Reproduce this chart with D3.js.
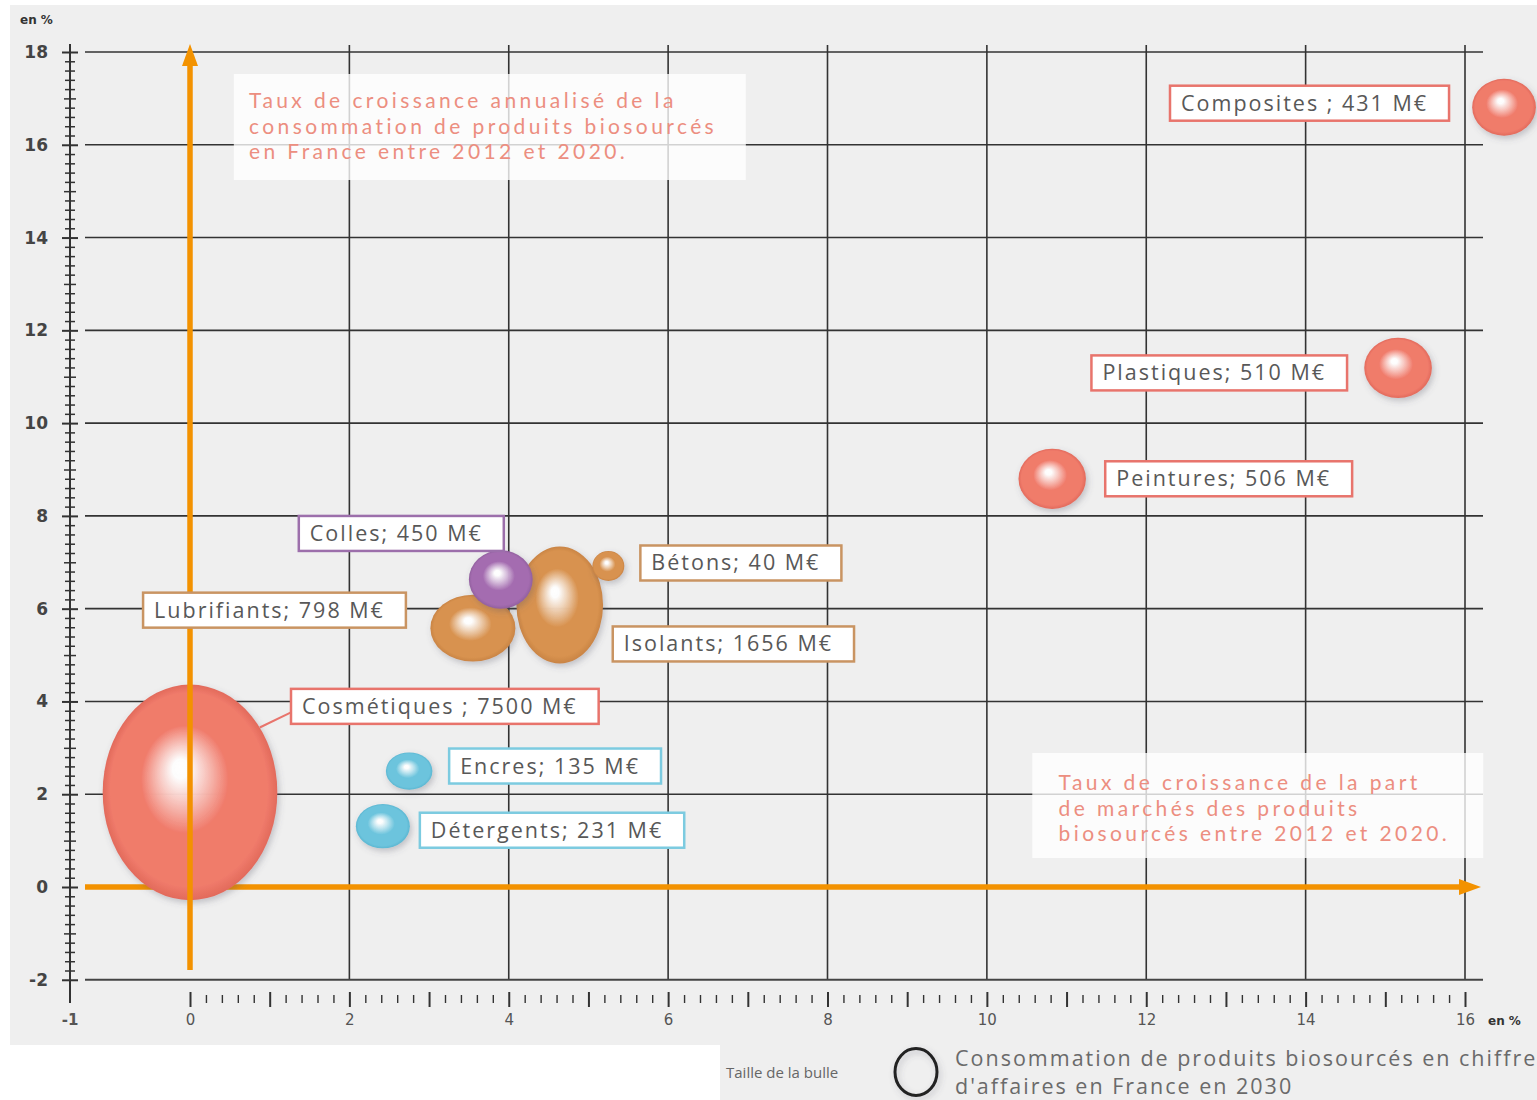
<!DOCTYPE html>
<html><head><meta charset="utf-8">
<script src="https://cdn.jsdelivr.net/npm/d3@7"></script>
<style>body{margin:0;background:#fff}svg{display:block}</style>
</head><body>
<svg id="chart" width="1537" height="1100"></svg>
<script>
// ---------- DATA ----------
const categories = ["Cosmétiques","Isolants","Lubrifiants","Colles","Bétons","Encres","Détergents","Peintures","Plastiques","Composites"];
const labelTexts = ["Cosmétiques ; 7500 M€","Isolants; 1656 M€","Lubrifiants; 798 M€","Colles; 450 M€","Bétons; 40 M€","Encres; 135 M€","Détergents; 231 M€","Peintures; 506 M€","Plastiques; 510 M€","Composites ; 431 M€"];
// x: taux de croissance de la part de marché (en %)
const marketShareGrowth = [0, 4.64, 3.55, 3.90, 5.25, 2.75, 2.42, 10.82, 15.16, 16.49];
// y: taux de croissance annualisé de la consommation (en %)
const consumptionGrowth = [2.04, 6.08, 5.58, 6.63, 6.92, 2.50, 1.31, 8.80, 11.19, 16.81];
// taille: chiffre d'affaires 2030 (M€)
const turnover2030 = [7500, 1656, 798, 450, 40, 135, 231, 506, 510, 431];
const sectorGroup = ["rouge","marron","marron","violet","marron","bleu","bleu","rouge","rouge","rouge"];
const yTickValues = [-2,0,2,4,6,8,10,12,14,16,18];
const xTickValues = [0,2,4,6,8,10,12,14,16];
const xOriginLabel = "-1";
const topNote = ["Taux de croissance annualisé de la","consommation de produits biosourcés","en France entre 2012 et 2020."];
const rightNote = ["Taux de croissance de la part","de marchés des produits","biosourcés entre 2012 et 2020."];
const legendTitle = "Taille de la bulle";
const legendText = ["Consommation de produits biosourcés en chiffre","d'affaires en France en 2030"];

// ---------- STYLE / LAYOUT ----------
const palette = {
  rouge:  {base:"#f07b6b", dark:"#e26a5b", border:"#e8746c"},
  marron: {base:"#d8924f", dark:"#c98444", border:"#c99462"},
  violet: {base:"#a46cb0", dark:"#92609f", border:"#9c6fab"},
  bleu:   {base:"#6cc4dd", dark:"#5cb7d2", border:"#7ccbe0"}
};
const aspect = {"Cosmétiques":0.81,"Isolants":0.74,"Lubrifiants":1.27,"Colles":1.09,"Bétons":1.07,"Encres":1.25,"Détergents":1.22,"Peintures":1.12,"Plastiques":1.12,"Composites":1.12};
// label placement relative to bubble centre (px): side, gap, vertical shift
const labelPlace = {
  "Cosmétiques":["right",101,-86], "Isolants":["right",53,39], "Lubrifiants":["left",67,-18],
  "Colles":["left",-3,-46], "Bétons":["right",32,-3], "Encres":["right",40,-5],
  "Détergents":["right",37,4], "Peintures":["right",53,0], "Plastiques":["left",51,5],
  "Composites":["left",55,-4]
};
const ORANGE = "#f39200";
const GRID = "#333";
const yAxisX = 70, gridLeft = 85, gridRight = 1483;

const data = categories.map((c,i)=>({name:c,label:labelTexts[i],x:marketShareGrowth[i],y:consumptionGrowth[i],v:turnover2030[i],g:sectorGroup[i]}));

const svg = d3.select("#chart");
const x = d3.scaleLinear().domain([0,16]).range([190,1465]);
const y = d3.scaleLinear().domain([0,18]).range([887,52]);
const r = d3.scaleSqrt().domain([0,7500]).range([9,97]);

// defs
const defs = svg.append("defs");
Object.entries(palette).forEach(([k,p])=>{
  const g = defs.append("radialGradient").attr("id","grad-"+k)
    .attr("cx","0.5").attr("cy","0.5").attr("r","0.5").attr("fx","0.44").attr("fy","0.38");
  g.append("stop").attr("offset","0").attr("stop-color","#ffffff");
  g.append("stop").attr("offset","0.09").attr("stop-color","#ffffff").attr("stop-opacity",0.95);
  g.append("stop").attr("offset","0.5").attr("stop-color",p.base);
  g.append("stop").attr("offset","0.9").attr("stop-color",p.base);
  g.append("stop").attr("offset","1").attr("stop-color",p.dark);
});
const f = defs.append("filter").attr("id","shadow").attr("x","-30%").attr("y","-30%").attr("width","170%").attr("height","170%");
f.append("feDropShadow").attr("dx",2).attr("dy",3).attr("stdDeviation",3).attr("flood-color","#556").attr("flood-opacity",0.3);

// background
svg.append("path").attr("fill","#efefef")
  .attr("d","M10,5H1537V1100H720V1045H10Z");

// "en %" top-left
svg.append("text").attr("x",20).attr("y",24).text("en %")
  .attr("font-family","DejaVu Sans").attr("font-weight","bold").attr("font-size",12).attr("fill","#333");

// gridlines
const gridG = svg.append("g");
gridG.selectAll(".vg").data(xTickValues.filter(v=>v>0)).join("line")
  .attr("x1",d=>x(d)).attr("x2",d=>x(d)).attr("y1",y(18)-7).attr("y2",y(-2))
  .attr("stroke",GRID).attr("stroke-width",1.6);
gridG.selectAll(".hg").data(yTickValues.filter(v=>v!==0)).join("line")
  .attr("x1",gridLeft).attr("x2",gridRight).attr("y1",d=>y(d)).attr("y2",d=>y(d))
  .attr("stroke",d=>d===-2?"#444":GRID).attr("stroke-width",d=>d===-2?2:1.6);

// y axis (crossing ticks)
const yAxisG = svg.append("g").attr("transform",`translate(${yAxisX},0)`);
yAxisG.append("line").attr("x1",0).attr("x2",0).attr("y1",y(18)-8).attr("y2",1003).attr("stroke","#333").attr("stroke-width",2);
const yMinor = d3.range(-2,18.001,0.2).map(v=>+v.toFixed(1));
const yMinorAxis = d3.axisLeft(y).tickValues(yMinor).tickFormat("").tickSize(0);
const ym = yAxisG.append("g").call(yMinorAxis);
ym.select(".domain").remove();
ym.selectAll(".tick line")
  .attr("x1",d=>Math.abs(d%2)<1e-6?-8:(Math.abs(d%1)<1e-6?-6:-5))
  .attr("x2",d=>Math.abs(d%2)<1e-6?8:(Math.abs(d%1)<1e-6?6:5))
  .attr("stroke","#333").attr("stroke-width",d=>Math.abs(d%2)<1e-6?2:1.5);
const yLabAxis = d3.axisLeft(y).tickValues(yTickValues).tickSize(0).tickPadding(22).tickFormat(d=>String(d));
const yl = yAxisG.append("g").call(yLabAxis);
yl.select(".domain").remove();
yl.selectAll("text").attr("font-family","DejaVu Sans").attr("font-weight","bold").attr("font-size",17).attr("fill","#444");

// x tick row
const xRow = svg.append("g").attr("transform","translate(0,990)");
const xMinor = d3.range(0,16.001,0.2).map(v=>+v.toFixed(1));
const xm = xRow.append("g").call(d3.axisBottom(x).tickValues(xMinor).tickFormat("").tickSize(0));
xm.select(".domain").remove();
xm.selectAll(".tick line")
  .attr("y1",d=>Math.abs(d%1)<1e-6?2:5).attr("y2",d=>Math.abs(d%1)<1e-6?17:13)
  .attr("stroke","#333").attr("stroke-width",d=>Math.abs(d%1)<1e-6?2:1.4);
const xl = xRow.append("g").call(d3.axisBottom(x).tickValues(xTickValues).tickSize(0).tickPadding(24).tickFormat(d=>String(d)));
xl.select(".domain").remove();
xl.selectAll("text").attr("font-family","DejaVu Sans").attr("font-size",15).attr("fill","#555");
svg.append("text").attr("x",yAxisX).attr("y",1025).attr("text-anchor","middle").text(xOriginLabel)
  .attr("font-family","DejaVu Sans").attr("font-weight","bold").attr("font-size",15).attr("fill","#555");
svg.append("text").attr("x",1488).attr("y",1025).text("en %")
  .attr("font-family","DejaVu Sans").attr("font-weight","bold").attr("font-size",12).attr("fill","#333");

// orange axes with arrow heads
function arrow(g, x1,y1,x2,y2){
  const ang = Math.atan2(y2-y1,x2-x1), L=22, W=8;
  const bx = x2 - L*Math.cos(ang), by = y2 - L*Math.sin(ang);
  g.append("line").attr("x1",x1).attr("y1",y1).attr("x2",bx).attr("y2",by).attr("stroke",ORANGE).attr("stroke-width",5.5);
  g.append("path").attr("fill",ORANGE).attr("d",
    `M${x2},${y2}L${bx - W*Math.sin(ang)},${by + W*Math.cos(ang)}L${bx + W*Math.sin(ang)},${by - W*Math.cos(ang)}Z`);
}
arrow(svg.append("g"), gridLeft, y(0), 1481, y(0));

// bubbles
const rx = d=>r(d.v)*Math.sqrt(aspect[d.name]);
const ry = d=>r(d.v)/Math.sqrt(aspect[d.name]);
svg.append("g").selectAll("ellipse").data(data).join("ellipse")
  .attr("cx",d=>x(d.x)).attr("cy",d=>y(d.y))
  .attr("rx",rx).attr("ry",ry)
  .attr("fill",d=>`url(#grad-${d.g})`).attr("filter","url(#shadow)");

// orange vertical axis (over bubbles)
arrow(svg.append("g"), x(0), 970, x(0), y(18)-8);

// annotation notes
function note(lines, bx, by, bw, bh, tx, ty){
  const g = svg.append("g");
  g.append("rect").attr("x",bx).attr("y",by).attr("width",bw).attr("height",bh).attr("fill","#fff").attr("opacity",0.78);
  g.selectAll("text").data(lines).join("text").attr("x",tx).attr("y",(d,i)=>ty+i*25.5).text(d=>d)
    .attr("font-family","Lato").attr("font-size",21).attr("letter-spacing",3.4).attr("fill","#ec8e80");
}
note(topNote, x(0.55), 74, 512, 106, x(0.74), 108);
note(rightNote, x(10.57), 753, 451, 105, x(10.9), 790);

// labels
const lg = svg.append("g");
data.forEach(d=>{
  const [side,gap,dy] = labelPlace[d.name];
  const cx = x(d.x), cy = y(d.y);
  const g = lg.append("g");
  const rect = g.append("rect");
  const t = g.append("text").text(d.label)
    .attr("font-family","Open Sans").attr("font-size",21.5).attr("letter-spacing",2).attr("fill","#585858");
  const tw = t.node().getComputedTextLength();
  const bw = tw + 32, bh = 35;
  const bx = side==="right" ? cx+gap : cx-gap-bw;
  const byc = cy+dy;
  rect.attr("x",bx).attr("y",byc-bh/2).attr("width",bw).attr("height",bh)
    .attr("fill","#fff").attr("stroke",palette[d.g].border).attr("stroke-width",2.5);
  t.attr("x",bx+11).attr("y",byc+7.5);
  if(d.name==="Cosmétiques"){
    const th = 37*Math.PI/180;
    lg.append("line").attr("x1",cx+rx(d)*Math.cos(th)).attr("y1",cy-ry(d)*Math.sin(th))
      .attr("x2",bx).attr("y2",byc+6).attr("stroke",palette[d.g].border).attr("stroke-width",2);
  }
});

// legend
svg.append("text").attr("x",726).attr("y",1078).text(legendTitle)
  .attr("font-family","Open Sans").attr("font-size",15).attr("fill","#666");
svg.append("ellipse").attr("cx",916).attr("cy",1072).attr("rx",21).attr("ry",23.5)
  .attr("fill","none").attr("stroke","#222").attr("stroke-width",3).attr("filter","url(#shadow)");
svg.selectAll(".leg").data(legendText).join("text").attr("x",955).attr("y",(d,i)=>1066+i*28).text(d=>d)
  .attr("font-family","Open Sans").attr("font-size",21.5).attr("letter-spacing",2).attr("fill","#6a6a6a");
</script>
</body></html>
